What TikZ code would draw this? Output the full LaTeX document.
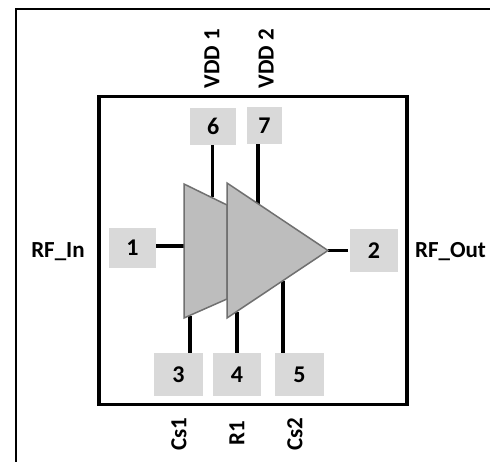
\documentclass[tikz,border=0pt]{standalone}
\usepackage{fontspec}
\setmainfont{Carlito}
\definecolor{pinbox}{HTML}{D9D9D9}
\definecolor{ampfill}{HTML}{BDBDBD}
\definecolor{ampedge}{HTML}{707070}
\tikzset{
  x=1pt,y=-1pt,
  pinbox/.style={fill=pinbox,draw=none,inner sep=0pt,font=\fontsize{24}{24}\selectfont\bfseries},
  pinlabel/.style={inner sep=0pt,font=\fontsize{23}{23}\selectfont\bfseries},
  wire/.style={line width=3.2pt,black},
  frameline/.style={line width=2pt,black},
  amp/.style={fill=ampfill,draw=ampedge,line width=1.5pt,line join=miter}
}
\newcommand{\pin}[6]{\node[pinbox,minimum width=#4pt,minimum height=#5pt] (#1) at (#2,#3) {#6};}
\begin{document}
\begin{tikzpicture}
\useasboundingbox (0,0) rectangle (490,462);
\fill[white] (0,0) rectangle (490,462);
\coordinate (fa) at (16,462);
\coordinate (fb) at (16,9.5);
\coordinate (fc) at (490,9.5);
\draw[frameline] (fa) -- (fb) -- (fc);
\node[draw=black,line width=3.2pt,inner sep=0pt,minimum width=308pt,minimum height=307.5pt] (chip) at (253,250.5) {};
\pin{p6}{213.2}{126.5}{45.5}{37}{6}
\pin{p7}{264.5}{125.5}{35}{37}{7}
\pin{p1}{132.5}{248}{47}{40}{1}
\pin{p2}{374}{250.5}{48}{43}{2}
\pin{p3}{178.5}{374.5}{49}{43}{3}
\pin{p4}{237}{374.5}{48}{43}{4}
\pin{p5}{299.5}{374.5}{49}{43}{5}
\coordinate (a6) at (212.5,197);
\coordinate (a7) at (258,204);
\coordinate (a1) at (184,246);
\coordinate (a2) at (328,250.5);
\coordinate (a3) at (190,316);
\coordinate (a4) at (237,312);
\coordinate (a5) at (283,281);
\draw[wire] (p6.south -| a6) -- (a6);
\draw[wire] (p7.south -| a7) -- (a7);
\draw[wire] (p1.east |- a1) -- (a1);
\draw[wire] (a2) -- (348,250.5);
\draw[wire] (p3.north -| a3) -- (a3);
\draw[wire] (p4.north -| a4) -- (a4);
\draw[wire] (p5.north -| a5) -- (a5);
\coordinate (b1) at (184,184);
\coordinate (b2) at (227,205);
\coordinate (b3) at (227,299);
\coordinate (b4) at (184,318);
\coordinate (t1) at (227,183);
\coordinate (t2) at (328,250.5);
\coordinate (t3) at (227,318);
\draw[amp] (b1) -- (b2) -- (b3) -- (b4) -- cycle;
\draw[amp] (t1) -- (t2) -- (t3) -- cycle;
\node[pinlabel,rotate=90] (vdd1) at (212,58.5) {VDD 1};
\node[pinlabel,rotate=90] (vdd2) at (266,58.5) {VDD 2};
\node[pinlabel] (rfin) at (58,252) {RF\_In};
\node[pinlabel] (rfout) at (450.5,252) {RF\_Out};
\node[pinlabel,rotate=90] (cs1) at (179,434) {Cs1};
\node[pinlabel,rotate=90] (r1) at (237,433) {R1};
\node[pinlabel,rotate=90] (cs2) at (295,434) {Cs2};
\end{tikzpicture}
\end{document}
